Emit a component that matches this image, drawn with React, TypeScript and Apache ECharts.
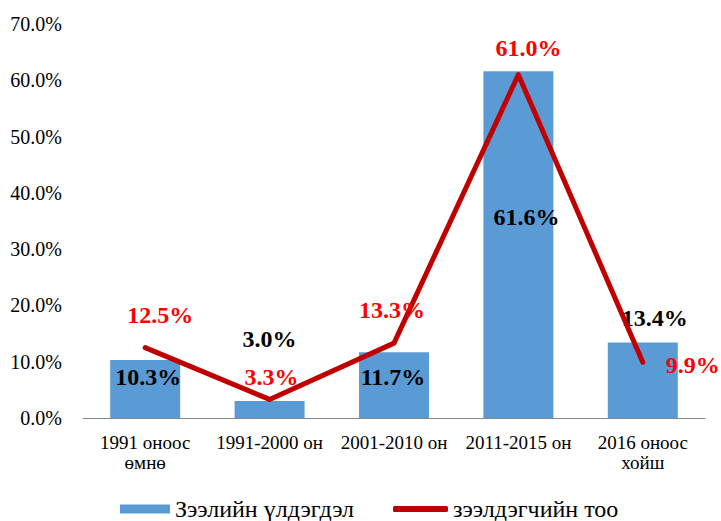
import React, { useEffect, useRef } from "react";
import * as echarts from "echarts";

const categories = ["1991 оноос\nөмнө", "1991-2000 он", "2001-2010 он", "2011-2015 он", "2016 оноос\nхойш"];
const loanBalance = [10.3, 3.0, 11.7, 61.6, 13.4];
const borrowers = [12.5, 3.3, 13.3, 61.0, 9.9];
const barLabelOffsets = [[3, 34], [0, -45], [-1, 42], [8, 163], [12, -8]];
const lineLabelOffsets = [[15, -33], [2, -22], [-2, -33], [10, -27], [50, 3]];
const seriesNames = ["Зээлийн үлдэгдэл", "зээлдэгчийн тоо"];

const FONT = "Liberation Serif";

export default function App() {
  const ref = useRef<HTMLDivElement>(null);
  useEffect(() => {
    if (!ref.current) return;
    const chart = echarts.init(ref.current, undefined, { renderer: "svg" });
    chart.setOption({
      animation: false,
      textStyle: { fontFamily: FONT },
      grid: { left: 83, right: 16, top: 24, bottom: 103, containLabel: false },
      legend: [
        {
          data: [{ name: seriesNames[0], icon: "rect" }],
          left: 120,
          top: 497,
          padding: 0,
          itemWidth: 50,
          itemHeight: 9,
          textStyle: { fontFamily: FONT, fontSize: 24, color: "#000" },
        },
        {
          data: [{ name: seriesNames[1], icon: "roundRect" }],
          left: 393,
          top: 497,
          padding: 0,
          itemWidth: 55,
          itemHeight: 6,
          itemStyle: { color: "#C00000" },
          textStyle: { fontFamily: FONT, fontSize: 24, color: "#000" },
        },
      ],
      xAxis: {
        type: "category",
        data: categories,
        axisLine: { lineStyle: { color: "#868686", width: 1 } },
        axisTick: { show: false },
        axisLabel: {
          interval: 0,
          fontFamily: FONT,
          fontSize: 19,
          lineHeight: 20,
          color: "#000",
          margin: 14,
        },
      },
      yAxis: {
        type: "value",
        min: 0,
        max: 70,
        interval: 10,
        splitLine: { show: false },
        axisLine: { show: false },
        axisTick: { show: false },
        axisLabel: {
          fontFamily: FONT,
          fontSize: 20,
          color: "#000",
          margin: 21,
          formatter: (v: number) => v.toFixed(1) + "%",
        },
      },
      series: [
        {
          name: seriesNames[0],
          type: "bar",
          barWidth: 70,
          itemStyle: { color: "#5B9BD5" },
          data: loanBalance.map((v, i) => ({
            value: v,
            label: {
              show: true,
              position: "top",
              offset: barLabelOffsets[i],
              formatter: (p: any) => p.value.toFixed(1) + "%",
              fontFamily: FONT,
              fontSize: 24,
              fontWeight: "bold",
              color: "#000",
            },
          })),
        },
        {
          name: seriesNames[1],
          type: "line",
          symbol: "circle",
          symbolSize: 4,
          itemStyle: { color: "#C00000" },
          lineStyle: { color: "#C00000", width: 5, cap: "round", join: "round" },
          data: borrowers.map((v, i) => ({
            value: v,
            label: {
              show: true,
              position: "inside",
              offset: lineLabelOffsets[i],
              formatter: (p: any) => p.value.toFixed(1) + "%",
              fontFamily: FONT,
              fontSize: 24,
              fontWeight: "bold",
              color: "#FF0000",
            },
          })),
        },
      ],
    });
    return () => chart.dispose();
  }, []);
  return <div ref={ref} style={{ width: 721, height: 521, position: "absolute", left: 0, top: 0 }} />;
}
